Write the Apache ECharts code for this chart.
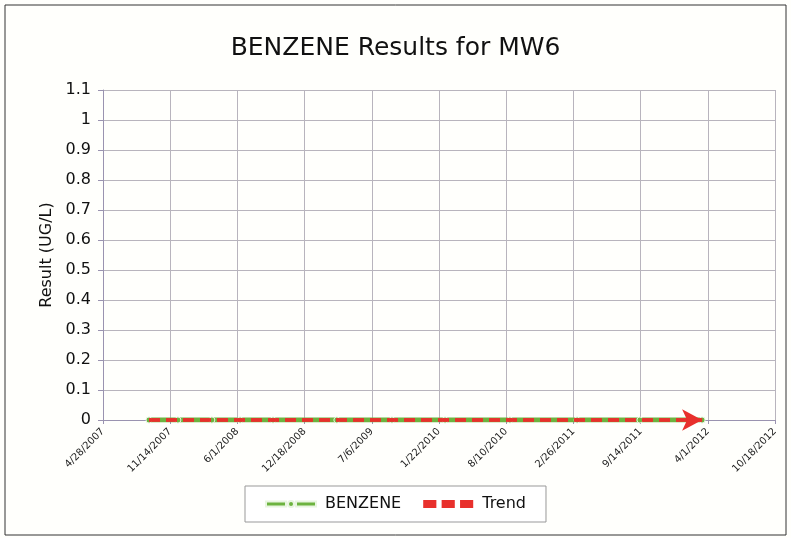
<!DOCTYPE html>
<html>
<head>
<meta charset="utf-8">
<script src="https://cdn.jsdelivr.net/npm/echarts@6/dist/echarts.min.js"></script>
<style>html,body{margin:0;padding:0;background:#fff;}#c{width:791px;height:538px;}</style>
</head>
<body>
<div id="c"></div>
<script>
// Sample dates as day offsets from 4/28/2007
const sampleDays = [137, 223, 324, 408, 506, 696, 860, 1018, 1211, 1411, 1598, 1783];
const benzeneValues = [0, 0, 0, 0, 0, 0, 0, 0, 0, 0, 0, 0];
const trendValues = [0, 0];
const xMin = 0, xMax = 2000, xStep = 200;
const yTicks = [0, 0.1, 0.2, 0.3, 0.4, 0.5, 0.6, 0.7, 0.8, 0.9, 1, 1.1];
const BASE = Date.UTC(2007, 3, 28);

function dayToLabel(v) {
  const d = new Date(BASE + Math.round(v) * 86400000);
  return (d.getUTCMonth() + 1) + '/' + d.getUTCDate() + '/' + d.getUTCFullYear();
}

const benzeneData = sampleDays.map((d, i) => [d, benzeneValues[i]]);
const trendData = [[sampleDays[0], trendValues[0]], [sampleDays[sampleDays.length - 1], trendValues[1]]];
const FONT = 'DejaVu Sans';

const chart = echarts.init(document.getElementById('c'));
chart.setOption({
  backgroundColor: '#fffffc',
  animation: false,
  title: {
    text: 'BENZENE Results for MW6',
    left: 'center', top: 31,
    textStyle: { fontFamily: FONT, fontSize: 25, fontWeight: 'normal', color: '#111' }
  },
  graphic: [{
    type: 'rect', shape: { x: 5, y: 5, width: 781, height: 530 },
    style: { fill: 'none', stroke: '#333', lineWidth: 1 }, silent: true
  }],
  grid: { left: 103, right: 16, top: 90, bottom: 118 },
  xAxis: {
    type: 'value', min: xMin, max: xMax, interval: xStep,
    axisLine: { show: true, onZero: false, lineStyle: { color: '#9a93b0' } },
    axisTick: { show: true, length: 4, lineStyle: { color: '#9a93b0' } },
    splitLine: { show: true, lineStyle: { color: '#b8b4bd', width: 1 } },
    axisLabel: {
      rotate: 45, fontFamily: FONT, fontSize: 10, color: '#222', margin: 10,
      formatter: v => dayToLabel(v)
    }
  },
  yAxis: {
    type: 'value', min: 0, max: 1.1, interval: 0.1,
    name: 'Result (UG/L)', nameLocation: 'middle', nameGap: 48, nameRotate: 90,
    nameTextStyle: { fontFamily: FONT, fontSize: 16, color: '#111' },
    axisLine: { show: true, lineStyle: { color: '#9a93b0' } },
    axisTick: { show: true, length: 5, lineStyle: { color: '#9a93b0' } },
    splitLine: { show: true, lineStyle: { color: '#b8b4bd', width: 1 } },
    axisLabel: {
      fontFamily: FONT, fontSize: 16, color: '#111', margin: 12,
      formatter: v => {
        const t = yTicks.find(k => Math.abs(k - v) < 1e-6);
        return String(t !== undefined ? t : +v.toFixed(1));
      }
    }
  },
  legend: {
    bottom: 16, left: 'center',
    padding: [10, 20, 10, 20],
    itemGap: 22, itemWidth: 50, itemHeight: 8,
    borderColor: '#999', borderWidth: 1, backgroundColor: '#fff',
    textStyle: { fontFamily: FONT, fontSize: 16, color: '#111', padding: [0, 0, 0, 4] },
    data: [
      { name: 'BENZENE', icon: 'path://M0,1h20v5h-20z M22,3.5a3,3 0 1,0 6,0a3,3 0 1,0 -6,0z M30,1h20v5h-20z' },
      { name: 'Trend', icon: 'path://M6,1h10v6h-10z M20,1h10v6h-10z M34,1h10v6h-10z' }
    ]
  },
  series: [{
    name: 'BENZENE', type: 'line', data: benzeneData,
    lineStyle: { color: '#6cb33f', width: 5 },
    itemStyle: { color: '#6cb33f', borderColor: '#e8f5e0', borderWidth: 1 },
    symbol: 'circle', symbolSize: 6, z: 2
  }, {
    name: 'Trend', type: 'line', data: trendData,
    lineStyle: { color: '#e8302c', width: 3.5, type: [11, 6] },
    itemStyle: { color: '#e8302c' },
    symbol: 'none', z: 3,
    markLine: {
      silent: true, symbol: ['none', 'arrow'], symbolSize: [16, 20],
      label: { show: false },
      lineStyle: { color: '#e8302c', width: 3.5, type: [11, 6] },
      data: [[{ coord: trendData[0] }, { coord: trendData[1] }]]
    }
  }]
});
</script>
</body>
</html>
